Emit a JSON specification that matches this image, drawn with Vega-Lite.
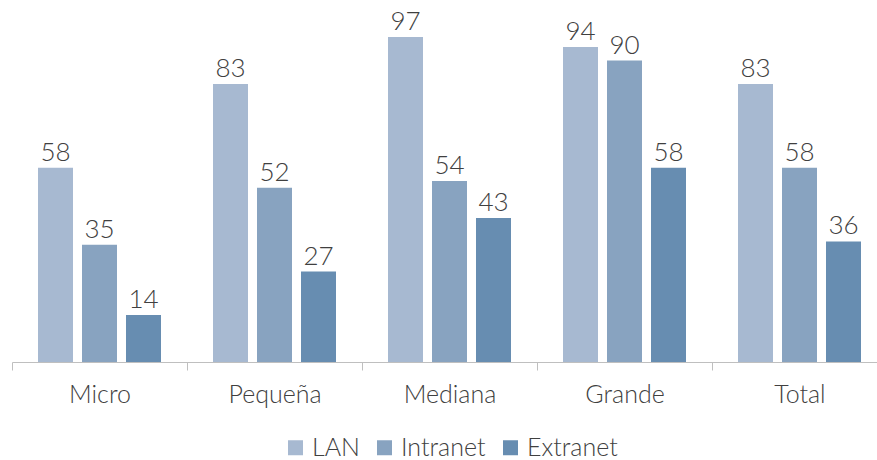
{
  "$schema": "https://vega.github.io/schema/vega-lite/v6.json",
  "width": 875,
  "height": 335,
  "autosize": "none",
  "padding": {"left": 12, "top": 27, "right": 0, "bottom": 98},
  "background": "white",
  "config": {
    "view": {"stroke": null},
    "font": "Lato",
    "text": {"font": "Lato"}
  },
  "data": {
    "values": [
      {"tamano": "Micro", "red": "LAN", "pct": 58},
      {"tamano": "Micro", "red": "Intranet", "pct": 35},
      {"tamano": "Micro", "red": "Extranet", "pct": 14},
      {"tamano": "Pequeña", "red": "LAN", "pct": 83},
      {"tamano": "Pequeña", "red": "Intranet", "pct": 52},
      {"tamano": "Pequeña", "red": "Extranet", "pct": 27},
      {"tamano": "Mediana", "red": "LAN", "pct": 97},
      {"tamano": "Mediana", "red": "Intranet", "pct": 54},
      {"tamano": "Mediana", "red": "Extranet", "pct": 43},
      {"tamano": "Grande", "red": "LAN", "pct": 94},
      {"tamano": "Grande", "red": "Intranet", "pct": 90},
      {"tamano": "Grande", "red": "Extranet", "pct": 58},
      {"tamano": "Total", "red": "LAN", "pct": 83},
      {"tamano": "Total", "red": "Intranet", "pct": 58},
      {"tamano": "Total", "red": "Extranet", "pct": 36}
    ]
  },
  "encoding": {
    "x": {
      "field": "tamano",
      "type": "nominal",
      "sort": ["Micro", "Pequeña", "Mediana", "Grande", "Total"],
      "scale": {"paddingInner": 0, "paddingOuter": 0},
      "axis": {
        "title": null,
        "labelAngle": 0,
        "labelFont": "Lato",
        "labelFontWeight": 300,
        "labelFontSize": 25,
        "labelColor": "#404040",
        "labelPadding": 12,
        "domainColor": "#BFBFBF",
        "domainWidth": 1,
        "ticks": true,
        "tickBand": "extent",
        "tickColor": "#BFBFBF",
        "tickSize": 8
      }
    },
    "xOffset": {
      "field": "red",
      "sort": ["LAN", "Intranet", "Extranet"],
      "scale": {"paddingInner": 0.2045, "paddingOuter": 0.591}
    },
    "y": {
      "field": "pct",
      "type": "quantitative",
      "scale": {"domain": [0, 100]},
      "axis": null
    }
  },
  "layer": [
    {
      "mark": {"type": "bar"},
      "encoding": {
        "color": {
          "field": "red",
          "type": "nominal",
          "sort": ["LAN", "Intranet", "Extranet"],
          "scale": {
            "domain": ["LAN", "Intranet", "Extranet"],
            "range": ["#A7B9D1", "#88A3C0", "#678DB1"]
          },
          "legend": {
            "title": null,
            "orient": "none",
            "legendX": 271,
            "legendY": 408,
            "direction": "horizontal",
            "symbolType": "square",
            "symbolSize": 225,
            "symbolStrokeWidth": 0,
            "labelFont": "Lato",
            "labelFontWeight": 300,
            "labelFontSize": 25,
            "labelColor": "#404040",
            "labelOffset": 4,
            "columnPadding": 12
          }
        }
      }
    },
    {
      "mark": {
        "type": "text",
        "baseline": "bottom",
        "dy": -2,
        "fontSize": 26,
        "fontWeight": 300,
        "color": "#404040"
      },
      "encoding": {"text": {"field": "pct", "type": "quantitative"}}
    }
  ]
}
